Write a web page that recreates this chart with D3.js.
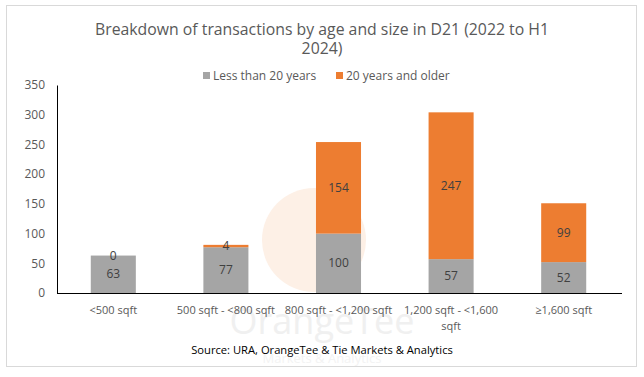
<!DOCTYPE html>
<html>
<head>
<meta charset="utf-8">
<script src="https://cdn.jsdelivr.net/npm/d3@7"></script>
<style>
  body { margin: 0; background: #fff; }
  text { font-family: "Open Sans", "Noto Sans", sans-serif; }
</style>
</head>
<body>
<div id="chart"></div>
<script>
// chart values
let categories = [["<500 sqft"], ["500 sqft - <800 sqft"], ["800 sqft - <1,200 sqft"], ["1,200 sqft - <1,600", "sqft"], ["\u22651,600 sqft"]]
let under20 = [63, 77, 100, 57, 52]
let over20 = [0, 4, 154, 247, 99]
let seriesNames = ["Less than 20 years", "20 years and older"]
let yTicks = [0, 50, 100, 150, 200, 250, 300, 350]

const W = 644, H = 377
const margin = {top: 85, right: 24, bottom: 84, left: 57}
const width = W - margin.left - margin.right
const height = H - margin.top - margin.bottom
const colors = ["#a5a5a5", "#ed7d31"]

const svg = d3.select("#chart").append("svg")
    .attr("width", W)
    .attr("height", H)

// chart border
svg.append("rect")
    .attr("x", 6.5).attr("y", 5.5)
    .attr("width", 630).attr("height", 361)
    .attr("fill", "#fff")
    .attr("stroke", "#d9d9d9")

// faint watermark
svg.append("circle")
    .attr("cx", 314).attr("cy", 240).attr("r", 52)
    .attr("fill", "#fdf0e6")
svg.append("text")
    .attr("x", 322).attr("y", 334)
    .attr("text-anchor", "middle")
    .style("font-size", "36px")
    .attr("fill", "#f0f0f0")
    .text("OrangeTee")
svg.append("text")
    .attr("x", 322).attr("y", 363)
    .attr("text-anchor", "middle")
    .style("font-size", "13px")
    .attr("fill", "#f3f3f3")
    .text("Markets & Analytics")

//Title
let title = svg.append("text")
    .attr("text-anchor", "middle")
    .attr("fill", "#595959")
    .style("font-size", "15.8px")
title.append("tspan").attr("x", 322).attr("y", 35).text("Breakdown of transactions by age and size in D21 (2022 to H1")
title.append("tspan").attr("x", 322).attr("y", 54).text("2024)")

// legend
let legendX = [203, 336]
seriesNames.forEach(function(name, i) {
    svg.append("rect")
        .attr("x", legendX[i]).attr("y", 72)
        .attr("width", 7).attr("height", 7)
        .attr("fill", colors[i])
    svg.append("text")
        .attr("x", legendX[i] + 10).attr("y", 80)
        .attr("fill", "#595959")
        .style("font-size", "12px")
        .text(name)
})

let g = svg.append("g")
    .attr("transform", "translate(" + margin.left + "," + margin.top + ")")

var x = d3.scaleBand()
    .domain(d3.range(categories.length))
    .range([0, width])
    .paddingInner(0.6)
    .paddingOuter(0.3)

var y = d3.scaleLinear()
    .domain([0, 350])
    .range([height, 0])

// y axis
let yAxis = g.append("g")
    .call(d3.axisLeft(y).tickValues(yTicks).tickSize(0).tickPadding(12))
yAxis.select(".domain").attr("stroke", "#000")
yAxis.selectAll("text")
    .attr("fill", "#595959")
    .style("font-size", "12px")
    .style("font-family", "'Open Sans', sans-serif")

let stacked = d3.stack().keys([0, 1])(under20.map(function(d, i) { return [d, over20[i]] }))

g.selectAll(".series")
    .data(stacked)
    .enter()
    .append("g")
        .attr("fill", function(d, i) { return colors[i] })
    .selectAll("rect")
    .data(function(d) { return d })
    .enter()
    .append("rect")
        .attr("x", function(d, i) { return x(i) })
        .attr("width", x.bandwidth())
        .attr("y", function(d) { return y(d[1]) })
        .attr("height", function(d) { return y(d[0]) - y(d[1]) })

// value labels
stacked.forEach(function(s) {
    g.selectAll(null)
        .data(s)
        .enter()
        .append("text")
            .attr("x", function(d, i) { return x(i) + x.bandwidth() / 2 })
            .attr("y", function(d) { return (y(d[0]) + y(d[1])) / 2 + 4 })
            .attr("text-anchor", "middle")
            .attr("fill", "#404040")
            .style("font-size", "12px")
            .text(function(d) { return d[1] - d[0] })
})

// x axis
g.append("line")
    .attr("x1", 0).attr("x2", width + 2)
    .attr("y1", height + 0.5).attr("y2", height + 0.5)
    .attr("stroke", "#000")

categories.forEach(function(lines, i) {
    let t = g.append("text")
        .attr("text-anchor", "middle")
        .attr("fill", "#595959")
        .style("font-size", "11px")
    lines.forEach(function(line, j) {
        t.append("tspan")
            .attr("x", x(i) + x.bandwidth() / 2)
            .attr("y", height + 21 + j * 16)
            .text(line)
    })
})

// source
svg.append("text")
    .attr("x", 322).attr("y", 354)
    .attr("text-anchor", "middle")
    .attr("fill", "#000")
    .style("font-size", "11.2px")
    .text("Source: URA, OrangeTee & Tie Markets & Analytics")
</script>
</body>
</html>
